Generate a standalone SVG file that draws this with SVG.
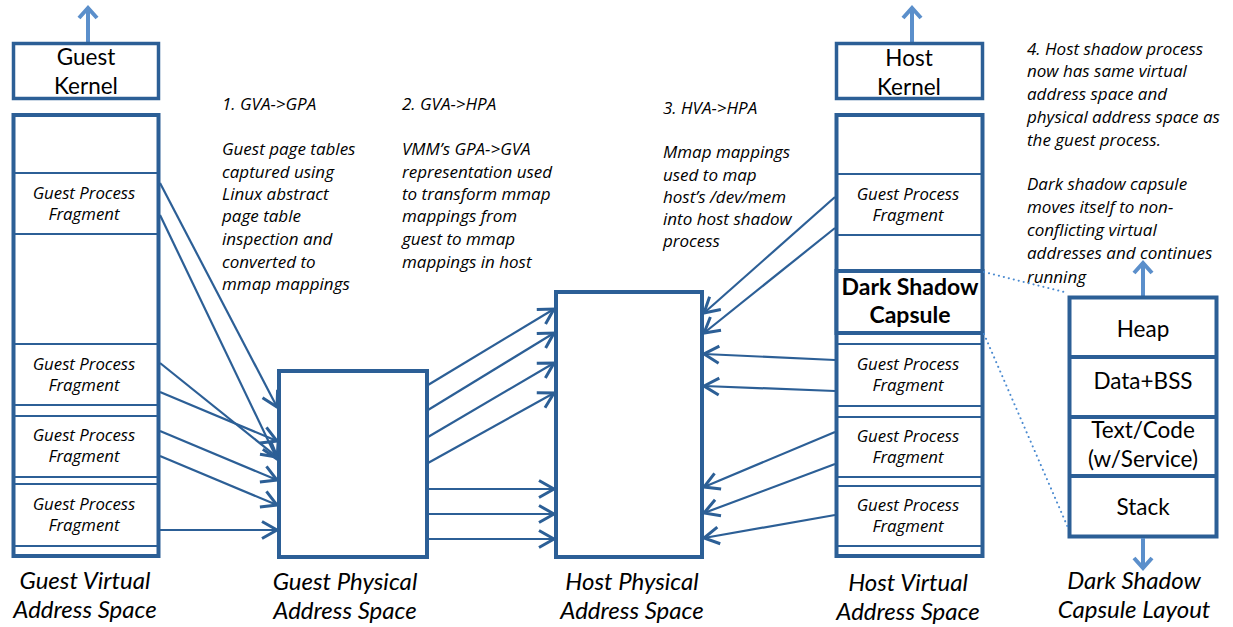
<svg xmlns="http://www.w3.org/2000/svg" width="1233" height="627" viewBox="0 0 1233 627">
<style>
.box{fill:#fff;stroke:#2c5f96;stroke-width:4}
.kbox{fill:#fff;stroke:#2c5f96;stroke-width:3.5}
.div{stroke:#2c5f96;stroke-width:2;fill:none}
.tdiv{stroke:#2c5f96;stroke-width:4;fill:none}
.con{stroke:#2c5f96;stroke-width:2.2;fill:none}
.up{stroke:#5b8fcb;stroke-width:4;fill:none}
.dot{stroke:#4a8ad0;stroke-width:2;fill:none;stroke-dasharray:0.1 5;stroke-linecap:round}
text{font-family:Lato,"Open Sans","Liberation Sans",sans-serif;fill:#000}
.k{font-size:22.5px;text-anchor:middle}
.f{font-family:"Open Sans",Lato,sans-serif;font-size:16.8px;font-style:italic;text-anchor:middle}
.n{font-family:"Open Sans",Lato,sans-serif;font-size:17px;font-style:italic}
.lbl{font-size:24px;font-style:italic;text-anchor:middle}
.b{font-size:23px;font-weight:bold;text-anchor:middle}
</style>
<defs>
<marker id="ah" viewBox="-20 -12 24 24" refX="0" refY="0" markerWidth="24" markerHeight="24" markerUnits="userSpaceOnUse" orient="auto">
<path d="M-15,-8.5 L0,0 L-15,8.5" fill="none" stroke="#2c5f96" stroke-width="3" stroke-linejoin="miter"/>
</marker>
</defs>
<rect width="1233" height="627" fill="#fff"/>

<g id="guest-virtual">
<line class="up" x1="88" y1="42" x2="88" y2="10"/>
<polyline class="up" points="79,18 88,8 97,18"/>
<rect class="kbox" x="13.5" y="43.5" width="145" height="55"/>
<text class="k" x="86" y="65">Guest</text>
<text class="k" x="86" y="94">Kernel</text>
<rect class="box" x="13.5" y="115" width="145" height="441"/>
<line class="div" x1="14" y1="173" x2="158" y2="173"/>
<line class="div" x1="14" y1="234" x2="158" y2="234"/>
<line class="div" x1="14" y1="344" x2="158" y2="344"/>
<line class="div" x1="14" y1="405" x2="158" y2="405"/>
<line class="div" x1="14" y1="416" x2="158" y2="416"/>
<line class="div" x1="14" y1="477" x2="158" y2="477"/>
<line class="div" x1="14" y1="484" x2="158" y2="484"/>
<line class="div" x1="14" y1="546" x2="158" y2="546"/>
<text class="f" x="84" y="199">Guest Process</text>
<text class="f" x="84" y="220">Fragment</text>
<text class="f" x="84" y="370">Guest Process</text>
<text class="f" x="84" y="391">Fragment</text>
<text class="f" x="84" y="441">Guest Process</text>
<text class="f" x="84" y="462">Fragment</text>
<text class="f" x="84" y="510">Guest Process</text>
<text class="f" x="84" y="531">Fragment</text>
<text class="lbl" x="85" y="589">Guest Virtual</text>
<text class="lbl" x="85" y="618">Address Space</text>
</g>

<g id="guest-physical">
<rect class="box" x="279" y="371" width="148" height="186"/>
<text class="lbl" x="345" y="590">Guest Physical</text>
<text class="lbl" x="345" y="619">Address Space</text>
</g>

<g id="host-physical">
<rect class="box" x="556" y="292" width="146" height="265"/>
<text class="lbl" x="632" y="590">Host Physical</text>
<text class="lbl" x="632" y="619">Address Space</text>
</g>

<g id="host-virtual">
<line class="up" x1="912" y1="42" x2="912" y2="10"/>
<polyline class="up" points="903,18 912,8 921,18"/>
<rect class="kbox" x="836.5" y="43.5" width="146" height="55"/>
<text class="k" x="909" y="66">Host</text>
<text class="k" x="909" y="95">Kernel</text>
<rect class="box" x="836.5" y="115" width="146" height="441"/>
<line class="div" x1="837" y1="174" x2="982" y2="174"/>
<line class="div" x1="837" y1="235" x2="982" y2="235"/>
<line class="div" x1="837" y1="344" x2="982" y2="344"/>
<line class="div" x1="837" y1="406" x2="982" y2="406"/>
<line class="div" x1="837" y1="417" x2="982" y2="417"/>
<line class="div" x1="837" y1="477" x2="982" y2="477"/>
<line class="div" x1="837" y1="486" x2="982" y2="486"/>
<line class="div" x1="837" y1="546" x2="982" y2="546"/>
<text class="f" x="908" y="200">Guest Process</text>
<text class="f" x="908" y="221">Fragment</text>
<text class="f" x="908" y="370">Guest Process</text>
<text class="f" x="908" y="391">Fragment</text>
<text class="f" x="908" y="442">Guest Process</text>
<text class="f" x="908" y="463">Fragment</text>
<text class="f" x="908" y="511">Guest Process</text>
<text class="f" x="908" y="532">Fragment</text>
<text class="lbl" x="908" y="591">Host Virtual</text>
<text class="lbl" x="908" y="620">Address Space</text>
</g>

<g id="dark-shadow-capsule">
<rect class="box" x="836.5" y="271" width="146" height="62"/>
<text class="b" x="910" y="295">Dark Shadow</text>
<text class="b" x="910" y="323">Capsule</text>
</g>

<g id="capsule-layout">
<line class="up" x1="1143" y1="297" x2="1143" y2="265"/>
<polyline class="up" points="1134,273 1143,263 1152,273"/>
<rect class="box" x="1069.5" y="297.5" width="147" height="239"/>
<line class="tdiv" x1="1070" y1="357" x2="1216" y2="357"/>
<line class="tdiv" x1="1070" y1="417" x2="1216" y2="417"/>
<line class="tdiv" x1="1070" y1="476" x2="1216" y2="476"/>
<text class="k" x="1143" y="337">Heap</text>
<text class="k" x="1143" y="389">Data+BSS</text>
<text class="k" x="1143" y="438">Text/Code</text>
<text class="k" x="1143" y="467">(w/Service)</text>
<text class="k" x="1143" y="515">Stack</text>
<line class="up" x1="1143" y1="538" x2="1143" y2="566"/>
<polyline class="up" points="1134,558 1143,568 1152,558"/>
<text class="lbl" x="1134" y="589">Dark Shadow</text>
<text class="lbl" x="1134" y="618">Capsule Layout</text>
</g>

<g id="notes">
<text class="n" x="222" y="110">1. GVA-&gt;GPA</text>
<text class="n" x="222" y="155">Guest page tables</text>
<text class="n" x="222" y="178">captured using</text>
<text class="n" x="222" y="200">Linux abstract</text>
<text class="n" x="222" y="222">page table</text>
<text class="n" x="222" y="245">inspection and</text>
<text class="n" x="222" y="268">converted to</text>
<text class="n" x="222" y="290">mmap mappings</text>

<text class="n" x="402" y="110">2. GVA-&gt;HPA</text>
<text class="n" x="402" y="155">VMM’s GPA-&gt;GVA</text>
<text class="n" x="402" y="178">representation used</text>
<text class="n" x="402" y="200">to transform mmap</text>
<text class="n" x="402" y="222">mappings from</text>
<text class="n" x="402" y="245">guest to mmap</text>
<text class="n" x="402" y="268">mappings in host</text>

<text class="n" x="663" y="114">3. HVA-&gt;HPA</text>
<text class="n" x="663" y="158">Mmap mappings</text>
<text class="n" x="663" y="181">used to map</text>
<text class="n" x="663" y="203">host’s /dev/mem</text>
<text class="n" x="663" y="225">into host shadow</text>
<text class="n" x="663" y="247">process</text>

<text class="n" x="1027" y="55">4. Host shadow process</text>
<text class="n" x="1027" y="77">now has same virtual</text>
<text class="n" x="1027" y="100">address space and</text>
<text class="n" x="1027" y="123">physical address space as</text>
<text class="n" x="1027" y="146">the guest process.</text>
<text class="n" x="1027" y="190">Dark shadow capsule</text>
<text class="n" x="1027" y="213">moves itself to non-</text>
<text class="n" x="1027" y="236">conflicting virtual</text>
<text class="n" x="1027" y="259">addresses and continues</text>
<text class="n" x="1027" y="283">running</text>
</g>

<g id="connectors">
<line class="con" x1="160" y1="183" x2="277" y2="407" marker-end="url(#ah)"/>
<line class="con" x1="160" y1="215" x2="277" y2="459" marker-end="url(#ah)"/>
<line class="con" x1="160" y1="363" x2="277" y2="457" marker-end="url(#ah)"/>
<line class="con" x1="160" y1="392" x2="277" y2="441" marker-end="url(#ah)"/>
<line class="con" x1="160" y1="431" x2="277" y2="480" marker-end="url(#ah)"/>
<line class="con" x1="160" y1="456" x2="277" y2="505" marker-end="url(#ah)"/>
<line class="con" x1="160" y1="530" x2="277" y2="530" marker-end="url(#ah)"/>

<line class="con" x1="428" y1="385" x2="554" y2="309" marker-end="url(#ah)"/>
<line class="con" x1="428" y1="410" x2="554" y2="333" marker-end="url(#ah)"/>
<line class="con" x1="428" y1="437" x2="554" y2="363" marker-end="url(#ah)"/>
<line class="con" x1="428" y1="463" x2="554" y2="393" marker-end="url(#ah)"/>
<line class="con" x1="428" y1="489" x2="554" y2="489" marker-end="url(#ah)"/>
<line class="con" x1="428" y1="514" x2="554" y2="514" marker-end="url(#ah)"/>
<line class="con" x1="428" y1="539" x2="554" y2="539" marker-end="url(#ah)"/>

<line class="con" x1="835" y1="197" x2="704" y2="313" marker-end="url(#ah)"/>
<line class="con" x1="835" y1="228" x2="704" y2="333" marker-end="url(#ah)"/>
<line class="con" x1="835" y1="360" x2="704" y2="354" marker-end="url(#ah)"/>
<line class="con" x1="835" y1="391" x2="704" y2="386" marker-end="url(#ah)"/>
<line class="con" x1="835" y1="432" x2="704" y2="487" marker-end="url(#ah)"/>
<line class="con" x1="835" y1="464" x2="704" y2="513" marker-end="url(#ah)"/>
<line class="con" x1="835" y1="515" x2="704" y2="538" marker-end="url(#ah)"/>

<line class="dot" x1="984" y1="272" x2="1068" y2="293"/>
<line class="dot" x1="984" y1="334" x2="1069" y2="530"/>
</g>
</svg>
